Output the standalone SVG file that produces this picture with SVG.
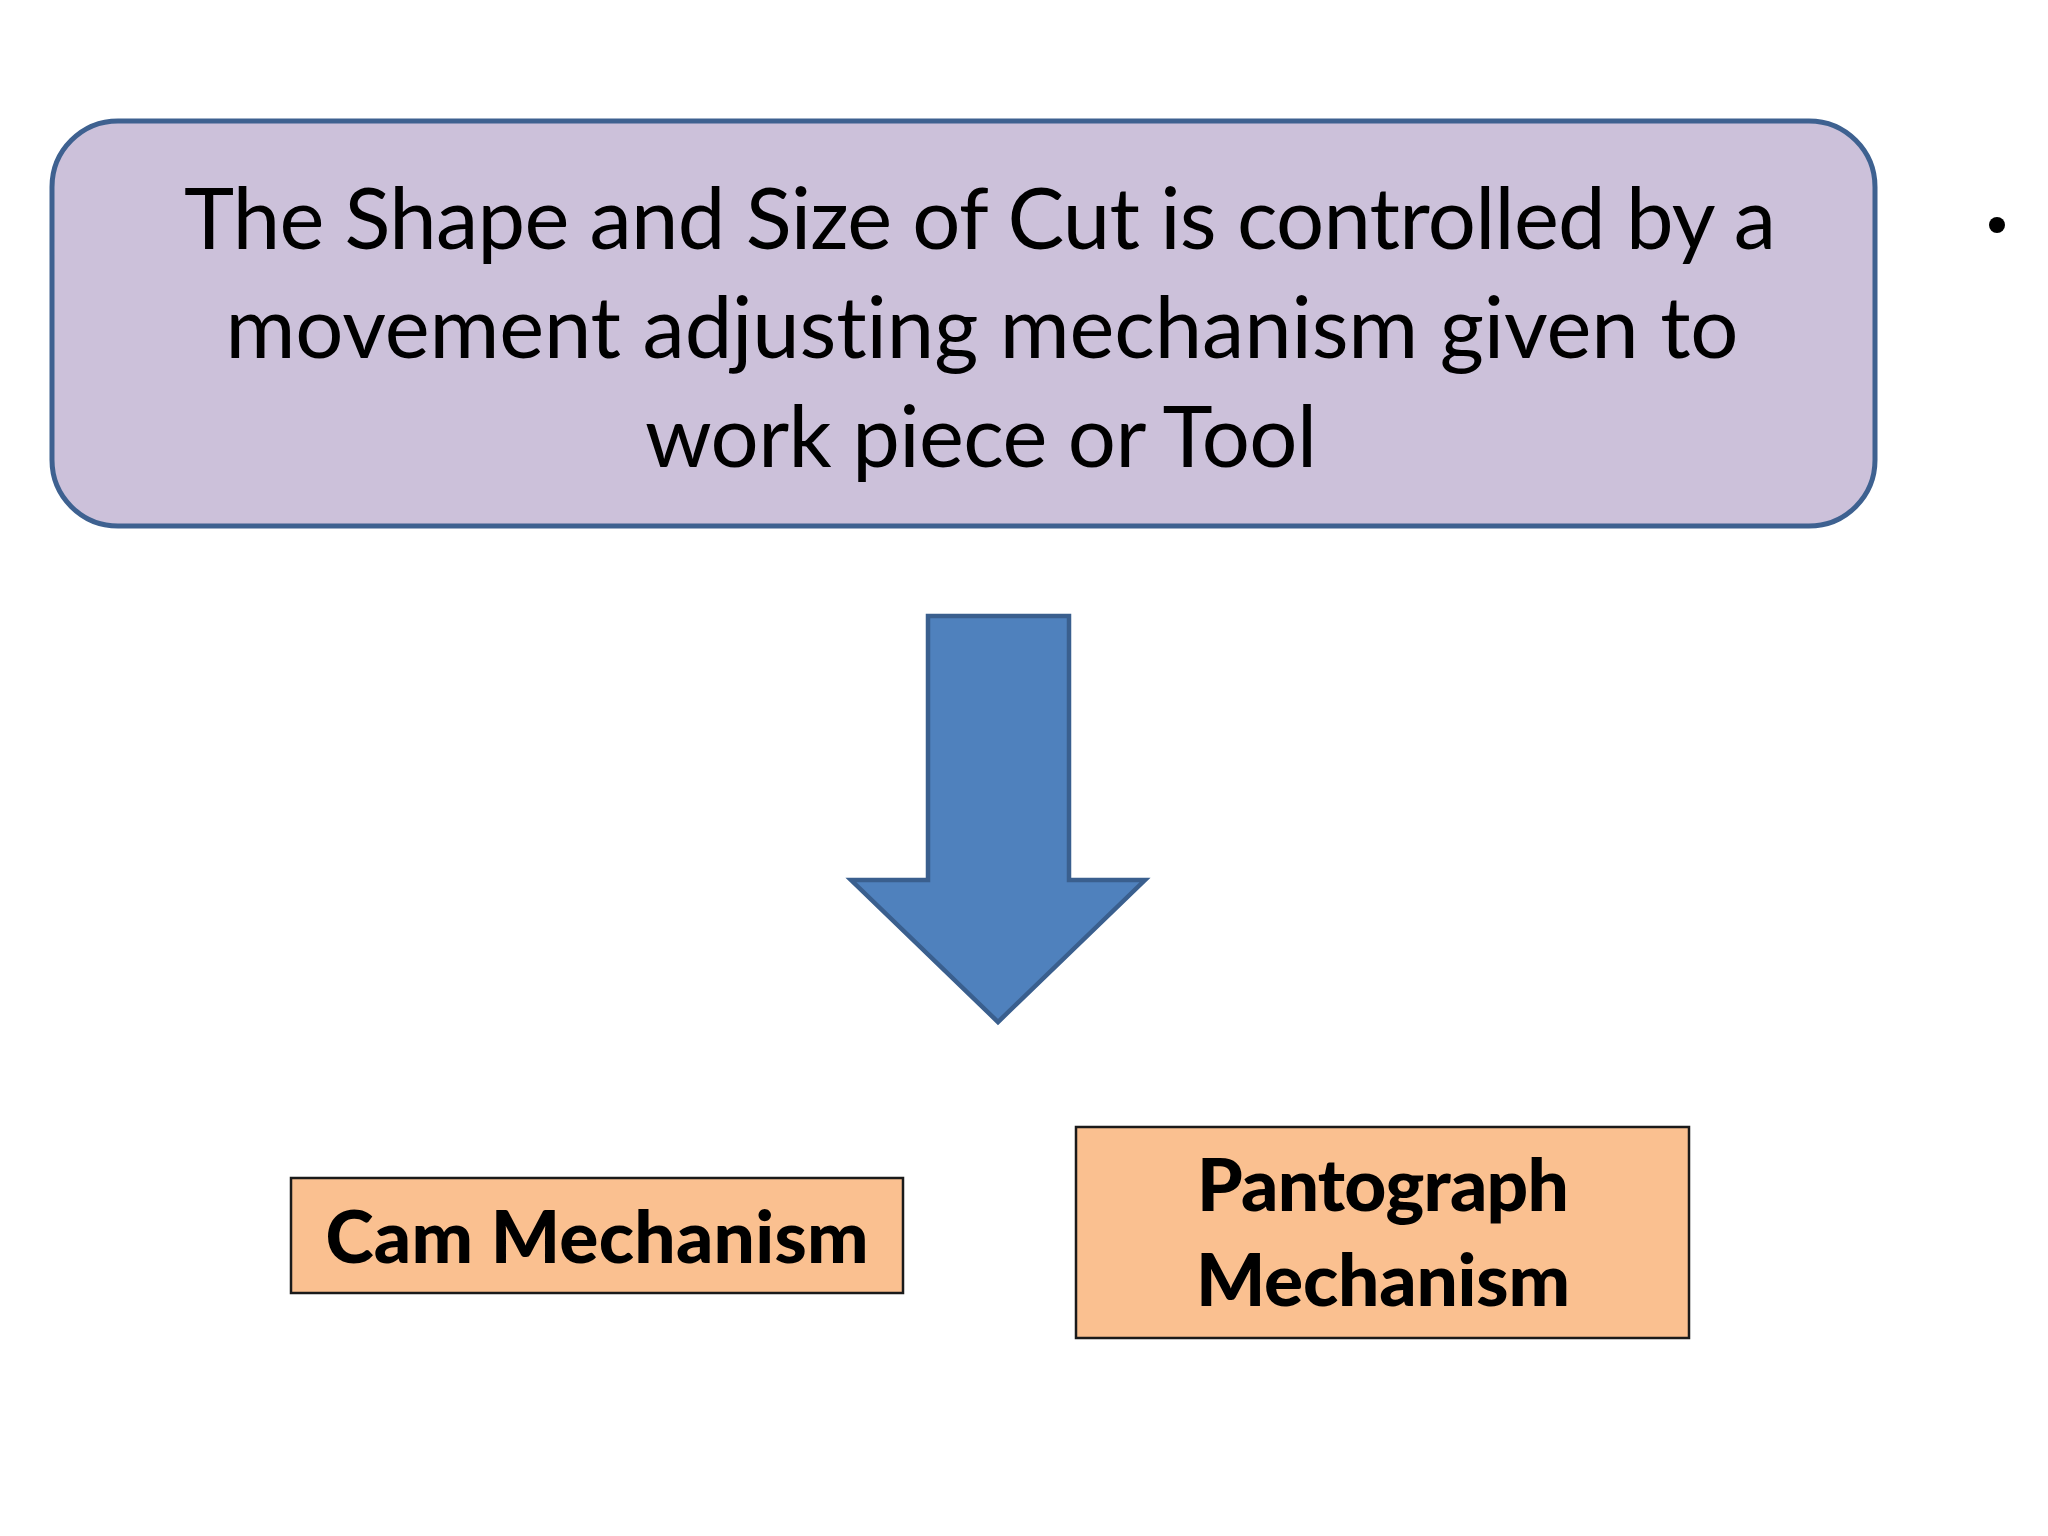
<svg xmlns="http://www.w3.org/2000/svg" width="2048" height="1536" viewBox="0 0 2048 1536">
<style>
.main{font-family:Lato,"Open Sans","Liberation Sans",sans-serif;font-size:85px;fill:#000;text-anchor:middle;font-variant-ligatures:none}
.lbl{font-family:Lato,"Open Sans","Liberation Sans",sans-serif;font-size:73px;font-weight:900;fill:#000;text-anchor:middle;font-variant-ligatures:none}
.orange{fill:#FAC090;stroke:#1a1a1a;stroke-width:2.5}
</style>
<rect width="2048" height="1536" fill="#fff"/>
<g id="top-box">
<rect x="52" y="121" width="1823" height="405" rx="66" ry="66" fill="#CCC1DA" stroke="#3E6190" stroke-width="5"/>
<text class="main" x="980" y="249" textLength="1592">The Shape and Size of Cut is controlled by a</text>
<text class="main" x="982" y="358" textLength="1513">movement adjusting mechanism given to</text>
<text class="main" x="981" y="467" textLength="672">work piece or Tool</text>
</g>
<g id="bullet">
<circle cx="1997" cy="225" r="8" fill="#000"/>
</g>
<g id="connectors">
<polygon points="928,616 1069,616 1069,880 1145,880 998,1022 851,880 928,880" fill="#4F81BD" stroke="#3A5F8E" stroke-width="4.5" stroke-linejoin="miter"/>
</g>
<g id="cam">
<rect class="orange" x="291" y="1178" width="612" height="115"/>
<text class="lbl" x="597" y="1263" textLength="543">Cam Mechanism</text>
</g>
<g id="pantograph">
<rect class="orange" x="1076" y="1127" width="613" height="211"/>
<text class="lbl" x="1383" y="1211" textLength="372">Pantograph</text>
<text class="lbl" x="1383" y="1306" textLength="374">Mechanism</text>
</g>
</svg>
